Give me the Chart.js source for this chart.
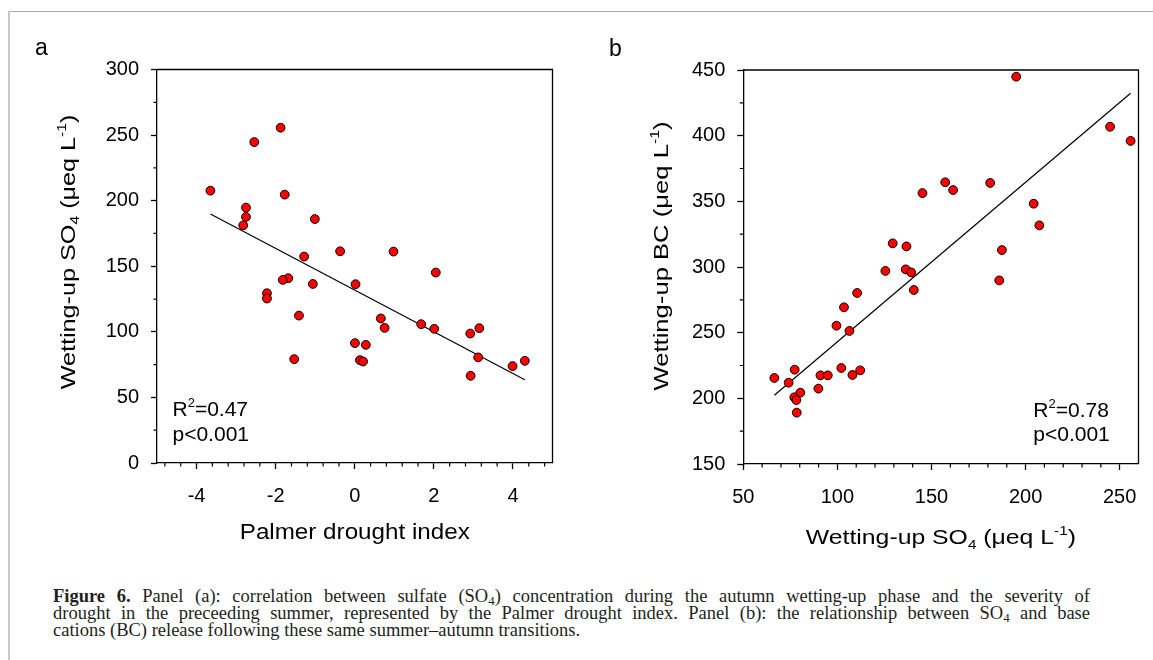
<!DOCTYPE html>
<html>
<head>
<meta charset="utf-8">
<script src="https://cdn.jsdelivr.net/npm/chart.js@4/dist/chart.umd.min.js"></script>
<style>
  html, body { margin:0; padding:0; background:#fff; }
  body { width:1153px; height:660px; position:relative; overflow:hidden; }
  #frameTop { position:absolute; left:8px; top:11px; width:1145px; height:0; border-top:1px solid #aaa; }
  #frameLeft { position:absolute; left:8px; top:11px; width:0; height:649px; border-left:2px solid #c8c8c8; }
  #wrapA { position:absolute; left:0; top:0; width:590px; height:560px; }
  #wrapB { position:absolute; left:590px; top:0; width:563px; height:560px; }
  #caption { position:absolute; left:53px; top:588px; width:1037px; font-family:"Liberation Serif", "DejaVu Serif", serif; font-size:18.5px; line-height:17px; color:#231f20; }
  #caption .j { display:block; text-align:justify; text-align-last:justify; }
  #caption .n { display:block; white-space:nowrap; }
  #caption sub { font-size:70%; vertical-align:-3px; line-height:0; }
</style>
</head>
<body>
<div id="frameTop"></div>
<div id="frameLeft"></div>
<div id="wrapA"><canvas id="chartA"></canvas></div>
<div id="wrapB"><canvas id="chartB"></canvas></div>
<div id="caption">
  <div class="j"><b>Figure 6.</b> Panel (a): correlation between sulfate (SO<sub>4</sub>) concentration during the autumn wetting-up phase and the severity of</div>
  <div class="j">drought in the preceeding summer, represented by the Palmer drought index. Panel (b): the relationship between SO<sub>4</sub> and base</div>
  <div class="n">cations (BC) release following these same summer–autumn transitions.</div>
</div>
<script>
// ---------------- DATA ----------------
// Panel (a): Palmer drought index vs wetting-up SO4
const palmerIndex = [-3.65,-2.54,-1.875,-1.77,-2.75,-2.75,-2.82,-1.01,-0.37,0.98,-1.28,2.05,-1.68,-1.82,-1.06,0.02,-2.22,-2.22,-1.41,0.66,0.755,1.68,2.01,2.92,3.15,0.005,0.28,0.13,0.21,-1.53,3.12,3.99,4.30,2.93];
const so4A = [207.6,244.7,255.6,204.6,194.7,187.6,181.2,186.0,161.4,161.2,157.4,145.2,140.9,139.6,136.5,136.3,129.4,125.4,112.4,110.2,103.0,105.8,102.3,98.7,102.8,91.4,90.1,78.4,77.4,79.2,80.5,73.9,77.9,66.5];
const fitAX = [-3.65, 4.30];
const fitAY = [189.8, 63.5];
// Panel (b): wetting-up SO4 vs wetting-up BC
const so4B = [195.0,157.3,161.5,181.2,145.2,204.3,207.3,187.4,186.0,129.4,136.7,125.5,136.3,139.2,140.6,110.5,103.5,99.5,106.4,102.1,112.1,108.0,91.0,94.9,77.3,66.5,74.1,89.9,80.3,77.1,78.2,78.4,244.9,255.8];
const bcB = [444.9,364.5,358.6,364.0,356.3,348.2,331.7,312.9,289.8,318.0,315.7,297.0,298.2,295.9,282.5,280.2,269.3,255.3,251.3,223.1,221.3,217.8,217.5,217.5,221.8,215.5,211.9,207.4,204.3,200.8,198.7,189.1,406.8,396.0];
const fitBX = [66.5, 255.8];
const fitBY = [202.3, 432.3];
// Tick values
const ticksAX = [-4,-2,0,2,4];
const minorAX = [-4.8,-4.4,-3.6,-3.2,-2.8,-2.4,-1.6,-1.2,-0.8,-0.4,0.4,0.8,1.2,1.6,2.4,2.8,3.2,3.6,4.4,4.8];
const ticksAY = [0,50,100,150,200,250,300];
const minorAY = [25,75,125,175,225,275];
const ticksBX = [50,100,150,200,250];
const minorBX = [60,70,80,90,110,120,130,140,160,170,180,190,210,220,230,240];
const ticksBY = [150,200,250,300,350,400,450];
const minorBY = [175,225,275,325,375,425];
// Text
const titleAX = [{t:"Palmer drought index"}];
const titleAY = [{t:"Wetting-up SO"},{t:"4",k:"sub"},{t:" (\u03bceq L"},{t:"-1",k:"sup"},{t:")"}];
const titleBX = [{t:"Wetting-up SO"},{t:"4",k:"sub"},{t:" (\u03bceq L"},{t:"-1",k:"sup"},{t:")"}];
const titleBY = [{t:"Wetting-up BC (\u03bceq L"},{t:"-1",k:"sup"},{t:")"}];
const statsA = ["0.47", "p<0.001"];
const statsB = ["0.78", "p<0.001"];

// ---------------- HELPERS ----------------
const SANS = '"Liberation Sans", Arial, sans-serif';
function toXY(xs, ys){ return xs.map((x,i)=>({x:x, y:ys[i]})); }

function drawRich(ctx, parts, x, y, o){
  const fs = o.size, small = fs*0.62;
  ctx.save();
  ctx.fillStyle = '#000';
  ctx.textBaseline = 'alphabetic';
  ctx.textAlign = 'left';
  let widths = parts.map(p => { ctx.font = ((p.k ? small : fs)) + 'px ' + SANS; return ctx.measureText(p.t).width; });
  const total = widths.reduce((a,b)=>a+b,0);
  ctx.translate(x, y);
  if (o.rot) ctx.rotate(o.rot);
  ctx.scale(o.stretch || 1, 1);
  let cx = o.align === 'center' ? -total/2 : 0;
  parts.forEach((p,i) => {
    ctx.font = ((p.k ? small : fs)) + 'px ' + SANS;
    const dy = p.k === 'sub' ? fs*0.22 : (p.k === 'sup' ? -fs*0.42 : 0);
    ctx.fillText(p.t, cx, dy);
    cx += widths[i];
  });
  ctx.restore();
}

const decorPlugin = {
  id: 'decor',
  beforeDatasetsDraw(chart){
    const ctx = chart.ctx, a = chart.chartArea;
    ctx.save();
    ctx.strokeStyle = '#000';
    ctx.lineWidth = 1.3;
    ctx.beginPath();
    ctx.moveTo(a.left, a.top); ctx.lineTo(a.right, a.top); ctx.lineTo(a.right, a.bottom);
    ctx.stroke();
    // minor ticks
    const o = chart.options.plugins.decor;
    const xs = chart.scales.x, ys = chart.scales.y;
    ctx.lineWidth = 1.2;
    ctx.beginPath();
    o.minorX.forEach(v => { const px = xs.getPixelForValue(v); ctx.moveTo(px, a.bottom); ctx.lineTo(px, a.bottom + 3.5); });
    o.minorY.forEach(v => { const py = ys.getPixelForValue(v); ctx.moveTo(a.left - 3.5, py); ctx.lineTo(a.left, py); });
    ctx.stroke();
    ctx.restore();
  },
  afterDraw(chart){
    const ctx = chart.ctx, a = chart.chartArea;
    const o = chart.options.plugins.decor;
    const cxm = (a.left + a.right)/2;
    // panel letter
    ctx.save();
    ctx.fillStyle = '#000';
    ctx.font = '23px ' + SANS;
    ctx.fillText(o.letter, o.letterX, o.letterY);
    ctx.restore();
    // axis titles
    drawRich(ctx, o.titleX, cxm, a.bottom + o.titleXOff, {size:o.titleXSize, stretch:o.titleXStretch, align:'center'});
    drawRich(ctx, o.titleY, o.titleYX, o.titleYY, {size:21, stretch:o.titleYStretch, align:'center', rot:-Math.PI/2});
    // stats
    drawRich(ctx, [{t:"R"},{t:"2",k:"sup"},{t:"="+o.stats[0]}], o.statX, o.statY, {size:21});
    drawRich(ctx, [{t:o.stats[1]}], o.statX, o.statY + 24.5, {size:21});
  }
};

function makeChart(id, cfg){
  const scaleCommon = (min, max, majors, fit, isX) => ({
    type:'linear', min:min, max:max,
    afterBuildTicks: s => { s.ticks = majors.map(v => ({value:v})); },
    afterFit: fit,
    grid: { display:true, drawOnChartArea:false, drawTicks:true, tickLength:6, tickColor:'#000', tickWidth:1.3 },
    border: { display:true, color:'#000', width:1.3 },
    ticks: { color:'#000', font:{ family:SANS, size:20 }, padding: isX ? 15 : 12, maxRotation:0, autoSkip:false, callback: v => String(v) },
    title: { display:false }
  });
  return new Chart(document.getElementById(id), {
    type:'scatter',
    data: {
      datasets: [
        { data: toXY(cfg.xs, cfg.ys), backgroundColor:'#ff0000', borderColor:'#000', borderWidth:1, pointRadius:4.4, pointHoverRadius:4.4 },
        { data: toXY(cfg.fx, cfg.fy), showLine:true, borderColor:'#000', borderWidth:1.2, pointRadius:0, fill:false }
      ]
    },
    options: {
      responsive:true, maintainAspectRatio:false, animation:false,
      layout: { padding: cfg.padding },
      events: [],
      scales: {
        x: Object.assign(scaleCommon(cfg.xmin, cfg.xmax, cfg.xt, s => { s.height = cfg.xh; }, true), {position:'bottom'}),
        y: Object.assign(scaleCommon(cfg.ymin, cfg.ymax, cfg.yt, s => { s.width = cfg.yw; }, false), {position:'left'})
      },
      plugins: {
        legend:{display:false}, tooltip:{enabled:false},
        decor: cfg.decor
      }
    },
    plugins:[decorPlugin]
  });
}

makeChart('chartA', {
  xs: palmerIndex, ys: so4A, fx: fitAX, fy: fitAY,
  xmin:-5, xmax:5, ymin:0, ymax:300, xt:ticksAX, yt:ticksAY,
  padding:{top:69.5, right:37.5, left:0, bottom:0}, yw:157, xh:97,
  decor:{ minorX:minorAX, minorY:minorAY, letter:'a', letterX:35, letterY:55,
    titleX:titleAX, titleXOff:76, titleXSize:22, titleXStretch:1.1,
    titleY:titleAY, titleYX:74.5, titleYY:252, titleYStretch:1.2,
    stats:statsA, statX:172.5, statY:416 }
});
makeChart('chartB', {
  xs: so4B, ys: bcB, fx: fitBX, fy: fitBY,
  xmin:50, xmax:260, ymin:150, ymax:450, xt:ticksBX, yt:ticksBY,
  padding:{top:70, right:14.5, left:0, bottom:0}, yw:153.3, xh:96,
  decor:{ minorX:minorBX, minorY:minorBY, letter:'b', letterX:19, letterY:56,
    titleX:titleBX, titleXOff:80, titleXSize:21, titleXStretch:1.18,
    titleY:titleBY, titleYX:78.3, titleYY:256, titleYStretch:1.22,
    stats:statsB, statX:443.3, statY:416.5 }
});
</script>
</body>
</html>
